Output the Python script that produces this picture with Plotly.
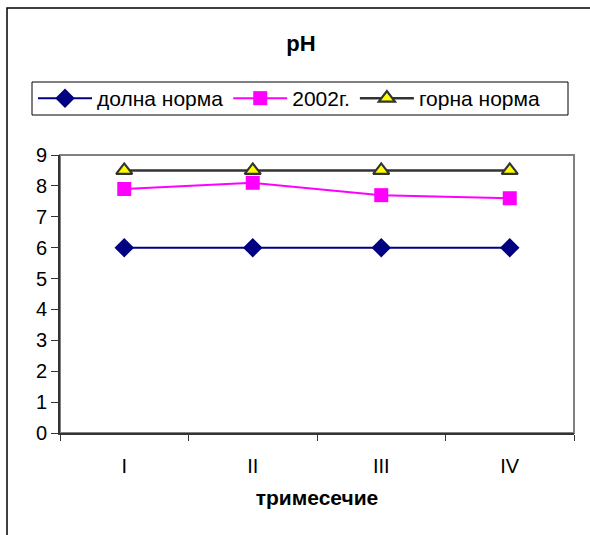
import plotly.graph_objects as go

categories = ["I", "II", "III", "IV"]
dolna = [6, 6, 6, 6]
y2002 = [7.9, 8.1, 7.7, 7.6]
gorna = [8.5, 8.5, 8.5, 8.5]

W, H = 590, 535
L, R, T, B = 60, 16, 155, 102
pw, ph = W - L - R, H - T - B

def px(x):
    return (x - L) / pw

def py(y):
    return (H - B - y) / ph

font = "Arial, 'Liberation Sans', sans-serif"

fig = go.Figure()
fig.add_trace(go.Scatter(x=categories, y=dolna, name="долна норма", mode="lines+markers",
                         line=dict(color="#000080", width=2),
                         marker=dict(symbol="diamond", size=15, color="#000080")))
fig.add_trace(go.Scatter(x=categories, y=y2002, name="2002г.", mode="lines+markers",
                         line=dict(color="#FF00FF", width=2),
                         marker=dict(symbol="square", size=14, color="#FF00FF")))
fig.add_trace(go.Scatter(x=categories, y=gorna, name="горна норма", mode="lines+markers",
                         line=dict(color="#333333", width=2.5),
                         marker=dict(symbol="triangle-up", size=14, color="#FFFF00",
                                     line=dict(color="#333333", width=2.2))))

fig.update_layout(
    width=W, height=H,
    margin=dict(l=L, r=R, t=T, b=B),
    paper_bgcolor="white", plot_bgcolor="white",
    font=dict(family=font, color="black", size=19),
    title=dict(text="<b>pH</b>", x=301 / W, xanchor="center", y=1 - 43 / H, yanchor="middle",
               font=dict(size=22, family=font)),
    showlegend=True,
    legend=dict(orientation="h", x=px(33), y=py(98.5), xanchor="left", yanchor="middle",
                borderwidth=0, bgcolor="rgba(0,0,0,0)",
                font=dict(size=21, family=font), itemwidth=54,
                tracegroupgap=0),
    xaxis=dict(type="category", range=[-0.5, 3.5], showline=True, linecolor="#333333",
               linewidth=2, ticks="outside", tickson="boundaries", ticklen=6,
               tickcolor="#333333", tickwidth=1, showgrid=False, zeroline=False,
               ticklabelstandoff=14, tickfont=dict(size=20),
               title=dict(text="<b>тримесечие</b>", standoff=14, font=dict(size=21))),
    yaxis=dict(range=[0, 9], dtick=1, showline=True, linecolor="#333333", linewidth=2,
               ticks="outside", ticklen=7, tickcolor="#333333", showgrid=False,
               zeroline=False, tickfont=dict(size=20)),
    shapes=[
        dict(type="rect", xref="paper", yref="paper", x0=0, x1=1, y0=0, y1=1,
             line=dict(color="#808080", width=2), layer="below"),
        dict(type="rect", xref="paper", yref="paper", x0=px(7), x1=px(600), y0=py(8), y1=py(545),
             line=dict(color="black", width=1.5), layer="below"),
        dict(type="rect", xref="paper", yref="paper", x0=px(32), x1=px(568), y0=py(82), y1=py(115),
             line=dict(color="black", width=1), layer="below"),
    ],
)

fig.write_html("out.html", config={"displayModeBar": False},
               post_script="document.body.style.margin='0';document.body.style.overflow='hidden';")
